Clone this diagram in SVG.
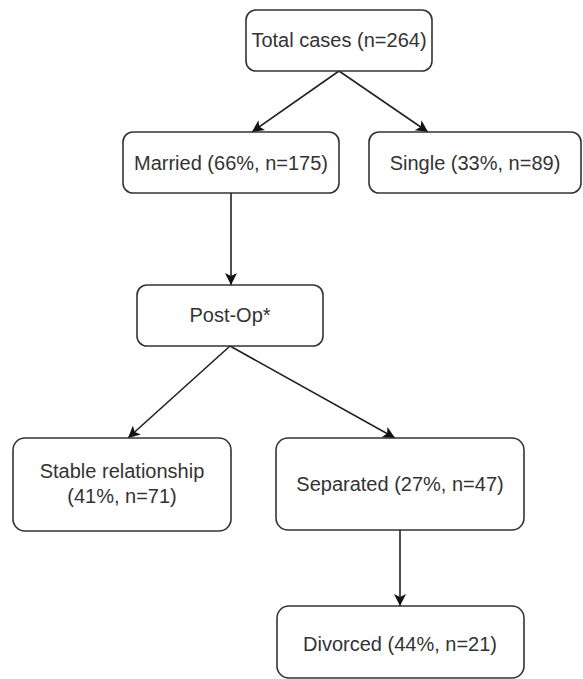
<svg xmlns="http://www.w3.org/2000/svg" width="583" height="679" viewBox="0 0 583 679">
<style>
.box{fill:#fff;stroke:#333;stroke-width:1.6}
.lbl{font-family:"Liberation Sans",Arial,sans-serif;font-size:20px;fill:#333;text-anchor:middle}
.edge{stroke:#222;stroke-width:1.6;fill:none}
</style>
<defs>
<marker id="arr" markerUnits="userSpaceOnUse" markerWidth="14" markerHeight="12" refX="12" refY="6" orient="auto">
<path d="M0,0 L12,6 L0,12 L3,6 Z" fill="#111"/>
</marker>
</defs>
<rect width="583" height="679" fill="#fff"/>
<g id="connectors">
<line class="edge" x1="339" y1="71" x2="252" y2="132" marker-end="url(#arr)"/>
<line class="edge" x1="339" y1="71" x2="428" y2="132" marker-end="url(#arr)"/>
<line class="edge" x1="231" y1="193" x2="231" y2="285" marker-end="url(#arr)"/>
<line class="edge" x1="230" y1="346" x2="128" y2="438" marker-end="url(#arr)"/>
<line class="edge" x1="230" y1="346" x2="395" y2="438" marker-end="url(#arr)"/>
<line class="edge" x1="400" y1="530" x2="400" y2="606" marker-end="url(#arr)"/>
</g>
<g id="total"><rect class="box" x="246" y="10" width="186" height="61" rx="10"/><text class="lbl" x="339" y="47">Total cases (n=264)</text></g>
<g id="married"><rect class="box" x="123" y="132" width="216" height="61" rx="10"/><text class="lbl" x="231" y="170">Married (66%, n=175)</text></g>
<g id="single"><rect class="box" x="369" y="132" width="212" height="61" rx="10"/><text class="lbl" x="475" y="170">Single (33%, n=89)</text></g>
<g id="postop"><rect class="box" x="137" y="285" width="186" height="61" rx="10"/><text class="lbl" x="230" y="322">Post-Op*</text></g>
<g id="stable"><rect class="box" x="13" y="438" width="218" height="93" rx="12"/><text class="lbl" x="122" y="478">Stable relationship</text><text class="lbl" x="122" y="503">(41%, n=71)</text></g>
<g id="separated"><rect class="box" x="276" y="438" width="248" height="92" rx="12"/><text class="lbl" x="400" y="491">Separated (27%, n=47)</text></g>
<g id="divorced"><rect class="box" x="277" y="606" width="247" height="72" rx="12"/><text class="lbl" x="400" y="651">Divorced (44%, n=21)</text></g>
</svg>
